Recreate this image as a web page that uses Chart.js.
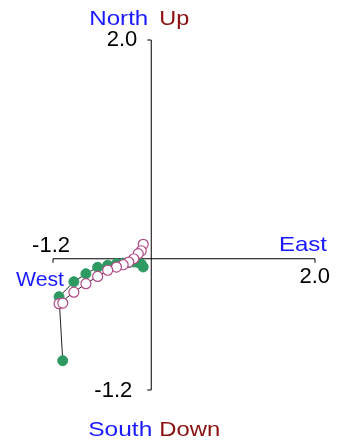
<!DOCTYPE html>
<html>
<head>
<meta charset="utf-8">
<script src="https://cdn.jsdelivr.net/npm/chart.js@4"></script>
<style>
  body { margin: 0; background: #fff; }
  #wrap { width: 340px; height: 443px; }
</style>
</head>
<body>
<div id="wrap"><canvas id="zij" width="340" height="443"></canvas></div>
<script>
// demagnetisation steps, shared east component
const eastValues = [-0.098, -0.122, -0.159, -0.214, -0.275, -0.343, -0.425, -0.532, -0.655, -0.798, -0.945, -1.126, -1.081];
// horizontal projection (filled)
const northValues = [-0.075, -0.048, -0.035, -0.03, -0.035, -0.04, -0.046, -0.059, -0.078, -0.137, -0.21, -0.347, -0.932];
// vertical projection (open)
const upValues = [0.132, 0.073, 0.046, 0.0, -0.03, -0.055, -0.076, -0.105, -0.162, -0.228, -0.306, -0.411, -0.405];

const axisMin = -1.2;
const axisMax = 2.0;
const tickLabels = ["-1.2", "2.0"];

const NUM_FONT = '22px "Liberation Sans", Arial, sans-serif';
const LBL_FONT = '21px "Liberation Sans", Arial, sans-serif';
const BLUE = "#1a1aff";
const RED = "#8b1010";

const toPoints = (ys) => eastValues.map((x, i) => ({ x: x, y: ys[i] }));

// draw text squeezed/stretched between left and right edges
function fitText(ctx, text, left, right, baseline, color) {
  const w = ctx.measureText(text).width;
  ctx.save();
  ctx.fillStyle = color;
  ctx.textAlign = "left";
  ctx.translate(left, baseline);
  ctx.scale((right - left) / w, 1);
  ctx.fillText(text, 0, 0);
  ctx.restore();
}

const crossAxes = {
  id: "crossAxes",
  beforeDatasetsDraw(chart) {
    const { ctx, scales } = chart;
    const x0 = scales.x.getPixelForValue(0);
    const y0 = scales.y.getPixelForValue(0);
    const xl = scales.x.getPixelForValue(axisMin);
    const xr = scales.x.getPixelForValue(axisMax);
    const yt = scales.y.getPixelForValue(axisMax);
    const yb = scales.y.getPixelForValue(axisMin);
    ctx.save();
    ctx.strokeStyle = "#000";
    ctx.lineWidth = 1;
    ctx.beginPath();
    // vertical axis with end ticks
    ctx.moveTo(x0 - 4, yt);
    ctx.lineTo(x0, yt);
    ctx.lineTo(x0, yb);
    ctx.lineTo(x0 - 4, yb);
    // horizontal axis with end ticks
    ctx.moveTo(xl, y0 + 4);
    ctx.lineTo(xl, y0);
    ctx.lineTo(xr, y0);
    ctx.lineTo(xr, y0 + 4);
    ctx.stroke();
    ctx.restore();
  },
  afterDraw(chart) {
    const { ctx, scales } = chart;
    const x0 = scales.x.getPixelForValue(0);
    const y0 = scales.y.getPixelForValue(0);
    const xl = scales.x.getPixelForValue(axisMin);
    const xr = scales.x.getPixelForValue(axisMax);
    const yt = scales.y.getPixelForValue(axisMax);
    const yb = scales.y.getPixelForValue(axisMin);
    ctx.save();
    ctx.textBaseline = "alphabetic";

    // tick values
    ctx.font = NUM_FONT;
    ctx.fillStyle = "#000";
    ctx.textAlign = "right";
    ctx.fillText(tickLabels[1], x0 - 14, yt + 6);
    ctx.fillText(tickLabels[0], x0 - 19, yb + 7);
    ctx.fillText(tickLabels[0], xl + 17, y0 - 7);
    ctx.fillText(tickLabels[1], xr + 15, y0 + 24);

    // direction labels
    ctx.font = LBL_FONT;
    fitText(ctx, "North", x0 - 62, x0 - 3, yt - 15, BLUE);
    fitText(ctx, "Up", x0 + 8, x0 + 38, yt - 15, RED);
    fitText(ctx, "South", x0 - 63, x0 + 1, yb + 46, BLUE);
    fitText(ctx, "Down", x0 + 8, x0 + 69, yb + 46, RED);
    fitText(ctx, "East", xr - 36, xr + 12, y0 - 8, BLUE);
    fitText(ctx, "West", xl - 37, xl + 11, y0 + 27, BLUE);
    ctx.restore();
  },
};

new Chart(document.getElementById("zij"), {
  type: "scatter",
  data: {
    datasets: [
      {
        label: "Vertical",
        data: toPoints(upValues),
        showLine: true,
        borderColor: "#222",
        borderWidth: 1,
        pointRadius: 5,
        pointBackgroundColor: "#ffffff",
        pointBorderColor: "#b04a86",
        pointBorderWidth: 1.2,
      },
      {
        label: "Horizontal",
        data: toPoints(northValues),
        showLine: true,
        borderColor: "#222",
        borderWidth: 1,
        pointRadius: 5,
        pointBackgroundColor: "#2e9a62",
        pointBorderColor: "#2e9a62",
        pointBorderWidth: 1,
      },
    ],
  },
  options: {
    responsive: false,
    animation: false,
    layout: { padding: { left: 53, right: 25, top: 40, bottom: 53 } },
    scales: {
      x: { type: "linear", min: axisMin, max: axisMax, display: false },
      y: { type: "linear", min: axisMin, max: axisMax, display: false },
    },
    plugins: {
      legend: { display: false },
      tooltip: { enabled: false },
    },
  },
  plugins: [crossAxes],
});
</script>
</body>
</html>
